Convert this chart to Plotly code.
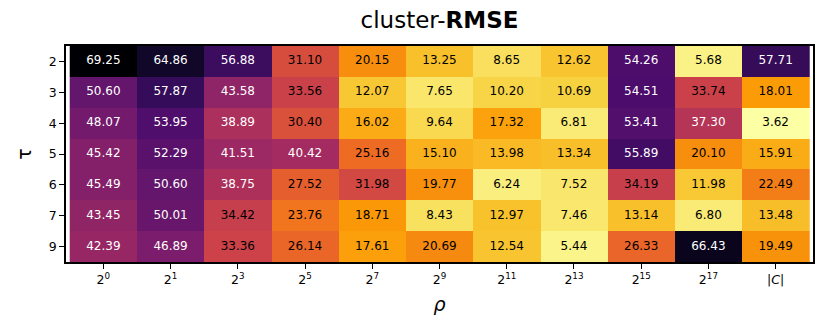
import plotly.graph_objects as go

rho_labels = ["2<sup>0</sup>", "2<sup>1</sup>", "2<sup>3</sup>", "2<sup>5</sup>", "2<sup>7</sup>",
              "2<sup>9</sup>", "2<sup>11</sup>", "2<sup>13</sup>", "2<sup>15</sup>", "2<sup>17</sup>", "|<i>C</i>|"]
tau_labels = ["2", "3", "4", "5", "6", "7", "9"]

row_2 = [69.25, 64.86, 56.88, 31.10, 20.15, 13.25, 8.65, 12.62, 54.26, 5.68, 57.71]
row_3 = [50.60, 57.87, 43.58, 33.56, 12.07, 7.65, 10.20, 10.69, 54.51, 33.74, 18.01]
row_4 = [48.07, 53.95, 38.89, 30.40, 16.02, 9.64, 17.32, 6.81, 53.41, 37.30, 3.62]
row_5 = [45.42, 52.29, 41.51, 40.42, 25.16, 15.10, 13.98, 13.34, 55.89, 20.10, 15.91]
row_6 = [45.49, 50.60, 38.75, 27.52, 31.98, 19.77, 6.24, 7.52, 34.19, 11.98, 22.49]
row_7 = [43.45, 50.01, 34.42, 23.76, 18.71, 8.43, 12.97, 7.46, 13.14, 6.80, 13.48]
row_9 = [42.39, 46.89, 33.36, 26.14, 17.61, 20.69, 12.54, 5.44, 26.33, 66.43, 19.49]

z = [row_2, row_3, row_4, row_5, row_6, row_7, row_9]
zmin = min(min(r) for r in z)
zmax = max(max(r) for r in z)

fig = go.Figure()
fig.add_trace(go.Heatmap(
    z=z, x=rho_labels, y=tau_labels,
    colorscale="Inferno", reversescale=True, zmin=zmin, zmax=zmax,
    showscale=False, xgap=0, ygap=0, hoverinfo="skip",
))

tx, ty, tt, tc = [], [], [], []
for i, r in enumerate(z):
    for j, v in enumerate(r):
        tx.append(rho_labels[j]); ty.append(tau_labels[i])
        tt.append(f"{v:.2f}")
        tc.append("white" if v > 36 else "black")
fig.add_trace(go.Scatter(
    x=tx, y=ty, text=tt, mode="text",
    textfont=dict(color=tc, size=12, family="DejaVu Sans"),
    hoverinfo="skip", showlegend=False,
))

fig.update_layout(
    width=830, height=335,
    margin=dict(l=66, r=17, t=46, b=73),
    plot_bgcolor="white", paper_bgcolor="white",
    font=dict(family="DejaVu Sans", color="black", size=12),
    title=dict(text="cluster-<b>RMSE</b>", xref="paper", x=0.5, xanchor="center",
               yref="container", y=0.94, yanchor="middle",
               font=dict(size=23, family="DejaVu Sans", color="black")),
    showlegend=False,
)
fig.update_xaxes(
    type="category", ticks="outside", ticklen=5, tickwidth=1.3, tickcolor="black",
    showline=True, linecolor="black", linewidth=1.5, mirror=True, automargin=False,
    title=dict(text="<i>ρ</i>", font=dict(size=19), standoff=12),
    tickfont=dict(size=12.5), showgrid=False, zeroline=False,
)
fig.update_yaxes(
    type="category", autorange="reversed", ticks="outside", ticklen=5, tickwidth=1.3, tickcolor="black",
    showline=True, linecolor="black", linewidth=1.5, mirror=True, automargin=False,
    title=dict(text="τ", font=dict(size=19), standoff=12),
    tickfont=dict(size=12.5), showgrid=False, zeroline=False,
)

fig.write_html(
    "out.html",
    config={"displayModeBar": False},
    post_script="document.body.style.margin='0';document.body.style.padding='0';"
                "document.body.style.overflow='hidden';document.documentElement.style.overflow='hidden';",
)
